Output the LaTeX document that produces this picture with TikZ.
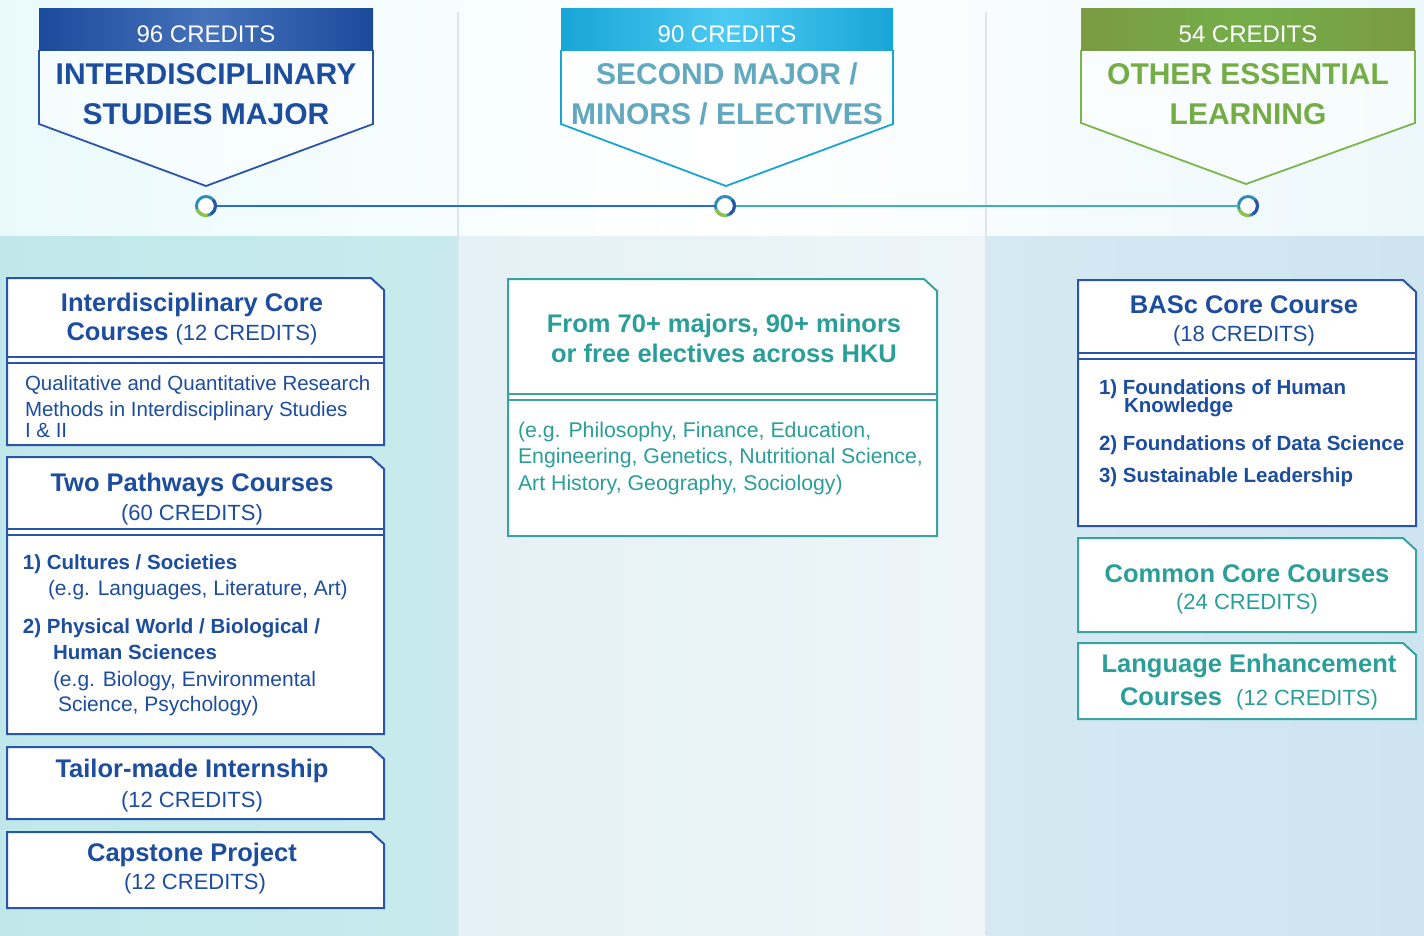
\documentclass[tikz,border=0pt]{standalone}
\usepackage{fontspec}
\setmainfont{Liberation Sans}
\definecolor{dblue}{HTML}{1D4D9E}
\definecolor{bblue}{HTML}{2A55A6}
\definecolor{hblueA}{HTML}{1C4A9B}
\definecolor{hblueB}{HTML}{4672BB}
\definecolor{hcyanA}{HTML}{18A5D6}
\definecolor{hcyanB}{HTML}{4DCAF2}
\definecolor{hcyanT}{HTML}{62A8BE}
\definecolor{hgreenA}{HTML}{7B9A43}
\definecolor{hgreenB}{HTML}{74AE49}
\definecolor{hgreenT}{HTML}{74AD45}
\definecolor{hgreenL}{HTML}{7BB64B}
\definecolor{teal}{HTML}{2A9E99}
\definecolor{tealB}{HTML}{3BA2A2}
\definecolor{topL}{HTML}{EAFAFC}
\definecolor{topR}{HTML}{EDF8FC}
\definecolor{colL}{HTML}{C0E8EA}
\definecolor{colLb}{HTML}{C8EAEE}
\definecolor{colM}{HTML}{E5F1F6}
\definecolor{colMb}{HTML}{EDF5F8}
\definecolor{colR}{HTML}{D5E9F2}
\definecolor{colRb}{HTML}{CEE4F1}
\definecolor{divc}{HTML}{DCE5EA}
\definecolor{lineA}{HTML}{2670BC}
\definecolor{lineB}{HTML}{3FB3B4}
\definecolor{ringA}{HTML}{2F8DB5}
\definecolor{ringB}{HTML}{8CC63F}
\definecolor{ringC}{HTML}{2A55A6}
\newcommand\fttl{\fontsize{25.5}{30}\selectfont\bfseries}
\newcommand\fcrd{\fontsize{22}{26}\selectfont}
\newcommand\fbdy{\fontsize{20.5}{26}\selectfont}
\newcommand\fbdyb{\fontsize{21}{26}\selectfont}
\newcommand\fbdym{\fontsize{21.3}{26}\selectfont}
\newcommand\fhed{\fontsize{30}{40}\selectfont\bfseries}
\newcommand\fhcr{\fontsize{24}{28}\selectfont}
\newcommand\notchbox[5]{%
  \filldraw[fill=white, draw=#5, line width=2pt]
    (#1,#2) -- ({#3-13},#2) -- (#3,{#2+12}) -- (#3,#4) -- (#1,#4) -- cycle;}
\newcommand\dline[4]{%
  \draw[#4, line width=1.6pt] (#1,#3) -- (#2,#3);
  \draw[#4, line width=1.6pt] (#1,{#3+6}) -- (#2,{#3+6});}
\tikzset{
  every node/.style={inner sep=0pt, outer sep=0pt},
  lbl/.style={anchor=base},
  lft/.style={anchor=base west},
  ring/.style={circle, minimum size=19pt, fill=white, draw=ringA, line width=3pt},
}
\begin{document}
\begin{tikzpicture}[x=1pt,y=-1pt]
\useasboundingbox (0,0) rectangle (1424,935);
% backgrounds
\shade[left color=topL, right color=white] (0,0) rectangle (712,236);
\shade[left color=white, right color=topR] (712,0) rectangle (1424,236);
\shade[left color=colL, right color=colLb] (0,236) rectangle (458,935);
\shade[left color=colM, right color=colMb] (458,236) rectangle (986,935);
\shade[left color=colR, right color=colRb] (986,236) rectangle (1424,935);
\draw[divc, line width=2.2pt] (458,12) -- (458,935);
\draw[divc, line width=2.2pt] (986,12) -- (986,935);

% ---------- headers ----------
% left
\fill[white, opacity=0.5] (39,50) -- (39,124) -- (206,186) -- (373,124) -- (373,50) -- cycle;
\draw[bblue, line width=1.8pt] (39,50) -- (39,124) -- (206,186) -- (373,124) -- (373,50);
\shade[left color=hblueA, right color=hblueA, middle color=hblueB] (39,8) rectangle (373,50);
\node[lbl, text=white, font=\fhcr] (h1c) at (206,42) {96 CREDITS};
\node[lbl, text=dblue, font=\fhed] (h1a) at (206,84) {INTERDISCIPLINARY};
\node[lbl, text=dblue, font=\fhed] (h1b) at (206,124) {STUDIES MAJOR};
% middle
\fill[white, opacity=0.5] (561,50) -- (561,124) -- (726,186) -- (893,124) -- (893,50) -- cycle;
\draw[hcyanA, line width=1.8pt] (561,50) -- (561,124) -- (726,186) -- (893,124) -- (893,50);
\shade[left color=hcyanA, right color=hcyanA, middle color=hcyanB] (561,8) rectangle (893,50);
\node[lbl, text=white, font=\fhcr] (h2c) at (727,42) {90 CREDITS};
\node[lbl, text=hcyanT, font=\fhed] (h2a) at (727,84) {SECOND MAJOR /};
\node[lbl, text=hcyanT, font=\fhed] (h2b) at (727,124) {MINORS / ELECTIVES};
% right
\fill[white, opacity=0.5] (1081,50) -- (1081,123) -- (1246,184) -- (1415,123) -- (1415,50) -- cycle;
\draw[hgreenL, line width=1.8pt] (1081,50) -- (1081,123) -- (1246,184) -- (1415,123) -- (1415,50);
\shade[left color=hgreenA, right color=hgreenA, middle color=hgreenB] (1081,8) rectangle (1415,50);
\node[lbl, text=white, font=\fhcr] (h3c) at (1248,42) {54 CREDITS};
\node[lbl, text=hgreenT, font=\fhed] (h3a) at (1248,84) {OTHER ESSENTIAL};
\node[lbl, text=hgreenT, font=\fhed] (h3b) at (1248,124) {LEARNING};

% timeline
\node[ring] (c1) at (206,206) {};
\node[ring] (c2) at (725,206) {};
\node[ring] (c3) at (1248,206) {};
\draw[lineA, line width=1.6pt] (c1) -- (c2);
\draw[lineB, line width=1.6pt] (c2) -- (c3);
\foreach \c in {c1,c2,c3}{
  \draw[ringB, line width=3pt] (\c.center) ++(160:9.5) arc[start angle=160, end angle=80, radius=9.5];
  \draw[ringC, line width=3pt] (\c.center) ++(60:9.5) arc[start angle=60, end angle=-40, radius=9.5];
}

% ---------- left column ----------
\notchbox{7}{278}{384}{445}{bblue}
\dline{7}{384}{357}{bblue}
\node[lbl, text=dblue, font=\fttl] (l1a) at (192,311) {Interdisciplinary Core};
\node[lbl, text=dblue] (l1b) at (192,340) {\fttl Courses\ \fcrd\mdseries (12 CREDITS)};
\node[lft, text=dblue, font=\fbdy] (l1c) at (25,390) {Qualitative and Quantitative Research};
\node[lft, text=dblue, font=\fbdy] (l1d) at (25,416) {Methods in Interdisciplinary Studies};
\node[lft, text=dblue, font=\fbdy] (l1e) at (25,437) {I \& II};

\notchbox{7}{457}{384}{734}{bblue}
\dline{7}{384}{529}{bblue}
\node[lbl, text=dblue, font=\fttl] (l2a) at (192,491) {Two Pathways Courses};
\node[lbl, text=dblue, font=\fcrd] (l2b) at (192,520) {(60 CREDITS)};
\node[lft, text=dblue, font=\fbdy\bfseries] (l2c) at (23,569) {1) Cultures / Societies};
\node[lft, text=dblue, font=\fbdyb] (l2d) at (48,595) {(e.g. Languages, Literature, Art)};
\node[lft, text=dblue, font=\fbdy\bfseries] (l2e) at (23,633) {2) Physical World / Biological /};
\node[lft, text=dblue, font=\fbdy\bfseries] (l2f) at (53,659) {Human Sciences};
\node[lft, text=dblue, font=\fbdyb] (l2g) at (53,686) {(e.g. Biology, Environmental};
\node[lft, text=dblue, font=\fbdyb] (l2h) at (58,711) {Science, Psychology)};

\notchbox{7}{747}{384}{819}{bblue}
\node[lbl, text=dblue, font=\fttl] (l3a) at (192,777) {Tailor-made Internship};
\node[lbl, text=dblue, font=\fcrd] (l3b) at (192,807) {(12 CREDITS)};

\notchbox{7}{832}{384}{908}{bblue}
\node[lbl, text=dblue, font=\fttl] (l4a) at (192,861) {Capstone Project};
\node[lbl, text=dblue, font=\fcrd] (l4b) at (195,889) {(12 CREDITS)};

% ---------- middle column ----------
\notchbox{508}{279}{937}{536}{tealB}
\dline{508}{937}{394}{tealB}
\node[lbl, text=teal, font=\fttl] (m1a) at (724,332) {From 70+ majors, 90+ minors};
\node[lbl, text=teal, font=\fttl] (m1b) at (724,362) {or free electives across HKU};
\node[lft, text=teal, font=\fbdym] (m1c) at (518,437) {(e.g. Philosophy, Finance, Education,};
\node[lft, text=teal, font=\fbdym] (m1d) at (518,463) {Engineering, Genetics, Nutritional Science,};
\node[lft, text=teal, font=\fbdym] (m1e) at (518,490) {Art History, Geography, Sociology)};

% ---------- right column ----------
\notchbox{1078}{280}{1416}{526}{bblue}
\dline{1078}{1416}{353}{bblue}
\node[lbl, text=dblue, font=\fttl] (r1a) at (1244,313) {BASc Core Course};
\node[lbl, text=dblue, font=\fcrd] (r1b) at (1244,341) {(18 CREDITS)};
\node[lft, text=dblue, font=\fbdy\bfseries] (r1c) at (1099,394) {1) Foundations of Human};
\node[lft, text=dblue, font=\fbdy\bfseries] (r1d) at (1124,412) {Knowledge};
\node[lft, text=dblue, font=\fbdy\bfseries] (r1e) at (1099,450) {2) Foundations of Data Science};
\node[lft, text=dblue, font=\fbdy\bfseries] (r1f) at (1099,482) {3) Sustainable Leadership};

\notchbox{1078}{538}{1416}{632}{tealB}
\node[lbl, text=teal, font=\fttl] (r2a) at (1247,582) {Common Core Courses};
\node[lbl, text=teal, font=\fcrd] (r2b) at (1247,609) {(24 CREDITS)};

\notchbox{1078}{643}{1416}{719}{tealB}
\node[lbl, text=teal, font=\fttl] (r3a) at (1249,672) {Language Enhancement};
\node[lbl, text=teal] (r3b) at (1249,705) {\fttl Courses\ \ \fcrd\mdseries (12 CREDITS)};
\end{tikzpicture}
\end{document}
